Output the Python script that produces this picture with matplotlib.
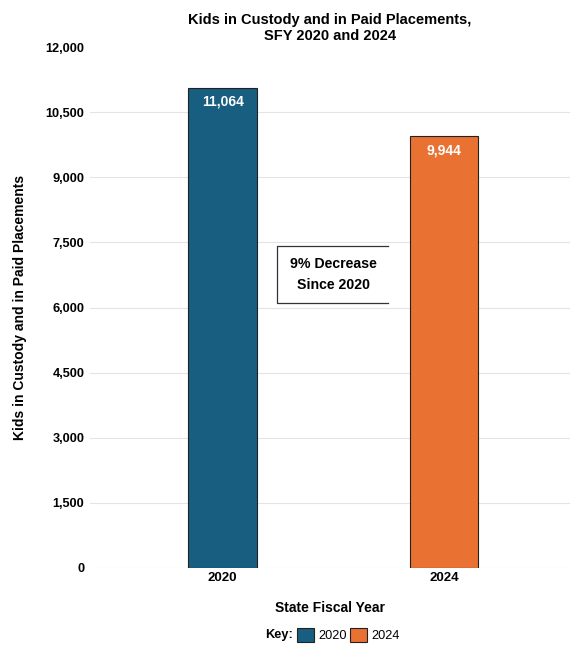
import matplotlib
matplotlib.use("Agg")
import matplotlib.pyplot as plt
from matplotlib.patches import Patch

plt.rcParams['font.family'] = ['Liberation Sans', 'DejaVu Sans']

years = ["2020", "2024"]
values = [11064, 9944]
colors = ["#175e80", "#e97132"]
yticks = [0, 1500, 3000, 4500, 6000, 7500, 9000, 10500, 12000]
title = "Kids in Custody and in Paid Placements,\nSFY 2020 and 2024"
annotation = "9% Decrease\nSince 2020"

fig = plt.figure(figsize=(5.71, 6.47), dpi=100)
ax = fig.add_axes([90/571, 1-568/647, 480/571, 521/647])

x = [1, 2]
bars = ax.bar(x, values, width=0.31, color=colors, edgecolor="#222222", linewidth=0.8, zorder=3)
for xi, v in zip(x, values):
    ax.annotate(f"{v:,}", (xi, v), xytext=(0, -5), textcoords="offset points",
                ha="center", va="top", color="white", fontweight="bold", fontsize=10, zorder=4)

ax.set_xlim(0.4, 2.57)
ax.set_ylim(0, 12000)
ax.set_yticks(yticks)
ax.set_yticklabels([f"{t:,}" for t in yticks], fontweight="bold", fontsize=9.2)
ax.set_xticks(x)
ax.set_xticklabels(years, fontweight="bold", fontsize=9.5)
ax.tick_params(axis="y", length=0, pad=4)
ax.tick_params(axis="x", length=0, pad=3)
ax.grid(axis="y", color="#e4e4e4", linewidth=0.8, zorder=0)
ax.get_ygridlines()[-1].set_visible(False)
ax.set_axisbelow(True)
for s in ax.spines.values():
    s.set_visible(False)

ax.set_ylabel("Kids in Custody and in Paid Placements", fontweight="bold", fontsize=10, labelpad=13)
ax.set_xlabel("State Fiscal Year", fontweight="bold", fontsize=10, labelpad=12)
ax.set_title(title, fontweight="bold", fontsize=10.5, pad=5, linespacing=1.15)

# annotation box (open on the right)
bx0, bx1, by0, by1 = 1.244, 1.747, 6104, 7416
ax.plot([bx1, bx0, bx0, bx1], [by1, by1, by0, by0], color="#333333", linewidth=0.9, zorder=5)
ax.fill_between([bx0, bx1], by0, by1, color="white", zorder=4)
ax.text(1.50, (by0 + by1) / 2, annotation, ha="center", va="center", fontweight="bold",
        fontsize=10.2, linespacing=1.55, zorder=6)

# legend
fig.text(293/571, 1-635/647, "Key:", ha="right", va="center", fontweight="bold", fontsize=9.2)
handles = [Patch(facecolor=c, edgecolor="#222222", linewidth=0.8) for c in colors]
fig.legend(handles, years, loc="center left", bbox_to_anchor=(297/571, 1-635/647), ncol=2,
           frameon=False, fontsize=9.2, handlelength=1.3, handleheight=1.4,
           handletextpad=0.35, columnspacing=0.3, borderpad=0, borderaxespad=0)

fig.savefig("out.png", dpi=100)
